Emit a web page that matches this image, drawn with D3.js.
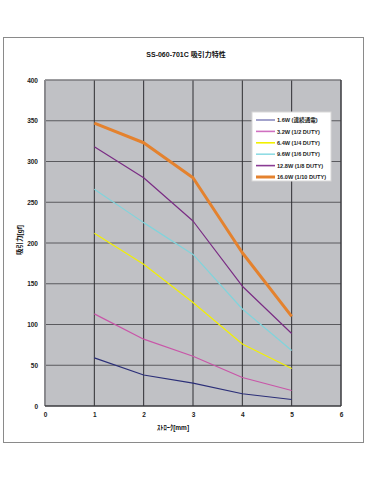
<!DOCTYPE html>
<html><head><meta charset="utf-8">
<script src="https://cdn.jsdelivr.net/npm/d3@7"></script>
<style>body{margin:0;background:#fff}svg{display:block}</style>
</head><body>
<script>
const strokes = [1, 2, 3, 4, 5];
const seriesNames = ["1.6W (連続通電)", "3.2W (1/2 DUTY)", "6.4W (1/4 DUTY)", "9.6W (1/6 DUTY)", "12.8W (1/8 DUTY)", "16.0W (1/10 DUTY)"];
const s16 = [59, 38, 28, 15, 8];
const s32 = [113, 82, 61, 35, 19];
const s64 = [212, 174, 127, 76, 46];
const s96 = [266, 225, 186, 119, 68];
const s128 = [318, 280, 227, 147, 89];
const s160 = [347, 323, 280, 188, 110];
const xTicks = [0, 1, 2, 3, 4, 5, 6];
const yTicks = [0, 50, 100, 150, 200, 250, 300, 350, 400];
const title = "SS-060-701C  吸引力特性";
const xLabel = "ｽﾄﾛｰｸ[mm]";
const yLabel = "吸引力[gf]";

const seriesValues = [s16, s32, s64, s96, s128, s160];
const lineColors = ["#2b2f78", "#c856a8", "#f2f000", "#80d4dc", "#7a2c84", "#e4822e"];
const legendColors = ["#8c8cc0", "#d070c0", "#f2f000", "#90dce4", "#8a3c94", "#e4822e"];
const widths = [1.2, 1.2, 1.2, 1.2, 1.2, 3];

const W = 367, H = 479;
const svg = d3.select("body").append("svg").attr("width", W).attr("height", H)
  .style("font-family", "'Liberation Sans', Arial, 'Noto Sans CJK JP', sans-serif");

svg.append("rect").attr("x", 3.5).attr("y", 37.5).attr("width", 360).attr("height", 405)
  .attr("fill", "#fff").attr("stroke", "#8a8a8a").attr("stroke-width", 1);

const L = 45, R = 341, T = 80, B = 406;
const x = d3.scaleLinear().domain([0, 6]).range([L, R]);
const y = d3.scaleLinear().domain([0, 400]).range([B, T]);

svg.append("rect").attr("x", L).attr("y", T).attr("width", R - L).attr("height", B - T).attr("fill", "#c0c1c5");

// grid
svg.append("g").selectAll("line").data(yTicks.filter(d => d > 0)).join("line")
  .attr("x1", L).attr("x2", R).attr("y1", d => y(d)).attr("y2", d => y(d))
  .attr("stroke", "#5a5a5e").attr("stroke-width", 1);
svg.append("g").selectAll("line").data(xTicks.filter(d => d > 0 && d < 6)).join("line")
  .attr("x1", d => x(d)).attr("x2", d => x(d)).attr("y1", T).attr("y2", B)
  .attr("stroke", "#2e2e32").attr("stroke-width", 1);

// plot frame
svg.append("line").attr("x1", L).attr("x2", L).attr("y1", T).attr("y2", B).attr("stroke", "#8a8a8e").attr("stroke-width", 2);
svg.append("line").attr("x1", L).attr("x2", R).attr("y1", T).attr("y2", T).attr("stroke", "#8a8a8e").attr("stroke-width", 1);
svg.append("line").attr("x1", R).attr("x2", R).attr("y1", T).attr("y2", B).attr("stroke", "#3a3a3e").attr("stroke-width", 1.5);
svg.append("line").attr("x1", L).attr("x2", R).attr("y1", B).attr("y2", B).attr("stroke", "#3a3a3e").attr("stroke-width", 1.5);

// axes with d3 axis (labels only)
const yAxis = svg.append("g").attr("transform", `translate(${L - 7},0)`)
  .call(d3.axisLeft(y).tickValues(yTicks).tickSize(0).tickPadding(0));
yAxis.select(".domain").remove();
yAxis.selectAll("text").attr("font-size", 6.5).attr("font-weight", "bold").attr("fill", "#222")
  .attr("font-family", "'Liberation Sans', Arial, sans-serif");

const xAxis = svg.append("g").attr("transform", `translate(0,${B + 6})`)
  .call(d3.axisBottom(x).tickValues(xTicks).tickSize(0).tickPadding(0).tickFormat(d3.format("d")));
xAxis.select(".domain").remove();
xAxis.selectAll("text").attr("font-size", 6.5).attr("font-weight", "bold").attr("fill", "#222")
  .attr("font-family", "'Liberation Sans', Arial, sans-serif");

// lines
const line = d3.line().x((d, i) => x(strokes[i])).y(d => y(d));
svg.append("g").selectAll("path").data(seriesValues).join("path")
  .attr("d", d => line(d)).attr("fill", "none")
  .attr("stroke", (d, i) => lineColors[i]).attr("stroke-width", (d, i) => widths[i])
  .attr("stroke-linejoin", "round");

// title and labels
svg.append("text").attr("x", 186).attr("y", 57).attr("text-anchor", "middle")
  .attr("font-size", 7).attr("font-weight", "bold").attr("fill", "#111").text(title);
svg.append("text").attr("x", 173).attr("y", 430).attr("text-anchor", "middle")
  .attr("font-size", 6.5).attr("font-weight", "bold").attr("fill", "#111").text(xLabel);
svg.append("text").attr("transform", "translate(22,240) rotate(-90)").attr("text-anchor", "middle")
  .attr("font-size", 6.5).attr("font-weight", "bold").attr("fill", "#111").text(yLabel);

// legend
const lg = svg.append("g").attr("transform", "translate(252,112)");
lg.append("rect").attr("width", 79).attr("height", 69).attr("fill", "#fff").attr("stroke", "#d8d8d8");
const items = lg.selectAll("g").data(seriesNames).join("g")
  .attr("transform", (d, i) => `translate(0,${8 + i * 11.4})`);
items.append("line").attr("x1", 4).attr("x2", 23).attr("y1", 0).attr("y2", 0)
  .attr("stroke", (d, i) => legendColors[i]).attr("stroke-width", (d, i) => i === 5 ? 3 : 1.6);
items.append("text").attr("x", 25).attr("y", 2.2).attr("font-size", 5.6).attr("font-weight", "bold")
  .attr("fill", "#222").text(d => d);
</script>
</body></html>
